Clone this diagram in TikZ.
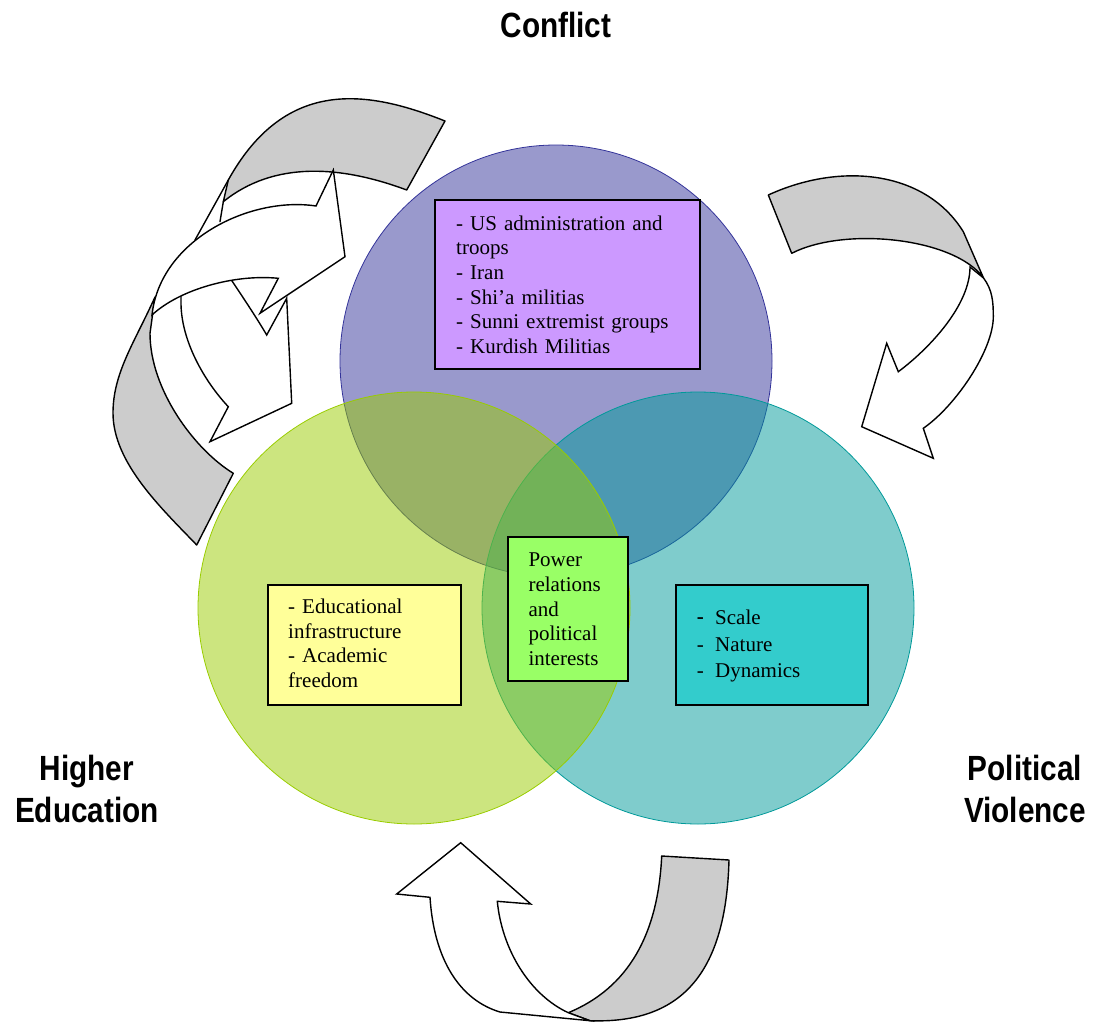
\documentclass[tikz,border=0pt]{standalone}
\usepackage{fontspec}
\setmainfont{Liberation Serif}
\newfontfamily\headfont[FakeStretch=0.85]{Liberation Sans}
\definecolor{conflictc}{HTML}{333399}
\definecolor{educc}{HTML}{99CC00}
\definecolor{violc}{HTML}{009999}
\definecolor{purplebox}{HTML}{CC99FF}
\definecolor{yellowbox}{HTML}{FFFF99}
\definecolor{greenbox}{HTML}{99FF66}
\definecolor{tealbox}{HTML}{33CCCC}
\definecolor{bandgray}{HTML}{CCCCCC}
\begin{document}
\begin{tikzpicture}[x=1pt,y=-1pt,
  ring/.style={circle, inner sep=0pt, minimum size=432pt, fill opacity=0.5, line width=0.8pt},
  infobox/.style={draw=black, line width=2pt, inner sep=0pt},
  txt/.style={inner sep=0pt, anchor=north west, align=left, text width=250pt,
              font=\fontsize{21}{24.6}\selectfont},
  headlbl/.style={inner sep=0pt, align=center, font=\headfont\bfseries\fontsize{35}{42}\selectfont},
  band/.style={fill=bandgray, draw=black, line width=1.4pt, line join=round},
  whitearrow/.style={fill=white, draw=black, line width=1.4pt, line join=miter},
  edge/.style={draw=black, line width=1.4pt, line cap=round}]
\useasboundingbox (0,0) rectangle (1102,1022);

% the three overlapping circles
\node[ring, fill=conflictc, draw=conflictc] (conflict) at (556,361) {};
\node[ring, fill=violc, draw=violc] (violence) at (698,608) {};
\node[ring, fill=educc, draw=educc] (education) at (414,608) {};

% headings
\node[headlbl] (conflictlbl) at (556,25) {Conflict};
\node[headlbl] (educlbl) at (87,789) {Higher\\Education};
\node[headlbl] (violbl) at (1025,789) {Political\\Violence};

% text boxes
\node[infobox, fill=purplebox, minimum width=265pt, minimum height=169pt] (actorsbox) at (567.5,284.5) {};
\node[txt] (actors) at (456,214) {\rule{0pt}{16pt}- US administration and\\troops\\- Iran\\- Shi’a militias\\- Sunni extremist groups\\- Kurdish Militias};

\node[infobox, fill=yellowbox, minimum width=193pt, minimum height=120pt] (heduc) at (364,645) {};
\node[txt] (heductxt) at (288,597.3) {\rule{0pt}{16pt}- Educational\\infrastructure\\- Academic\\freedom};

\node[infobox, fill=greenbox, minimum width=120.6pt, minimum height=143.4pt] (powerbox) at (568,609) {};
\node[txt] (power) at (528.3,550.7) {\rule{0pt}{16pt}Power\\relations\\and\\political\\interests};

\node[infobox, fill=tealbox, minimum width=192.3pt, minimum height=120pt] (pvbox) at (772.2,645.3) {};
\node[txt, font=\fontsize{21}{26.2}\selectfont] (pv) at (696.7,608.7) {\rule{0pt}{16pt}\makebox[18.3pt][l]{\raisebox{1pt}{\bfseries -}}Scale\\\makebox[18.3pt][l]{-}Nature\\\makebox[18.3pt][l]{-}Dynamics};

% upper left: twisted band with two arrowheads
% lower grey part of the band
\filldraw[band] (155,297) .. controls (134.5,342.5) and (113,373) .. (113,413)
  .. controls (113,463) and (162.2,509) .. (196.7,545)
  -- (233.3,473.3)
  .. controls (195,450) and (150,390) .. (150,333.3) -- cycle;
% upper grey part of the band
\filldraw[band] (445,121) .. controls (370.6,91.4) and (286.5,75.1) .. (228.3,180)
  -- (223.3,201.7)
  .. controls (274,160.7) and (340.9,165.5) .. (406.7,190) -- cycle;
\draw[edge] (228.3,180) -- (195,240);
\draw[edge] (223.3,201.7) -- (220,221.7);
% lower white arrow
\filldraw[whitearrow] (266.7,335) -- (286.7,298.3) -- (291.7,403.3) -- (210,441.7) -- (228.3,406.7)
  .. controls (205,382) and (180,340) .. (181,300) -- (181,287) -- (226,272)
  .. controls (238,290) and (255,315) .. (266.7,335) -- cycle;
% upper white arrow
\filldraw[whitearrow] (316,206) -- (333.3,170) -- (345,256.7) -- (260,313.3) -- (278.3,278.3)
  .. controls (235,274) and (180,289) .. (152,315)
  .. controls (160,240) and (250,196) .. (316,206) -- cycle;

% right: curved arrow pointing down-left
\filldraw[band] (768.3,195) .. controls (840,162) and (925,170) .. (963.3,231.7)
  -- (983.5,278)
  .. controls (955,238) and (845,226) .. (791.7,253.3) -- cycle;
\filldraw[whitearrow] (970,267) -- (983.5,278)
  .. controls (992.5,290) and (993.3,302) .. (993.3,316.7)
  .. controls (993.3,350) and (956.1,405.5) .. (923.3,428.3)
  -- (933.3,458.3) -- (861.7,426.7) -- (886.7,343.3) -- (898.3,371.7)
  .. controls (930,348) and (970,305) .. (970,267) -- cycle;

% bottom: curved arrow pointing up
\filldraw[band] (661.7,856) .. controls (658,935) and (628,988) .. (568.3,1012.7)
  -- (590,1020.7)
  .. controls (680,1024) and (726,975) .. (729,860) -- cycle;
\filldraw[whitearrow] (430,897.3) -- (396.7,894) -- (460.7,842.7) -- (530.7,904) -- (497.3,901.3)
  .. controls (502,950) and (530,995) .. (568.3,1012.7)
  -- (590,1020.7) -- (500,1012)
  .. controls (460,1000) and (434,960) .. (430,897.3) -- cycle;
\end{tikzpicture}
\end{document}
